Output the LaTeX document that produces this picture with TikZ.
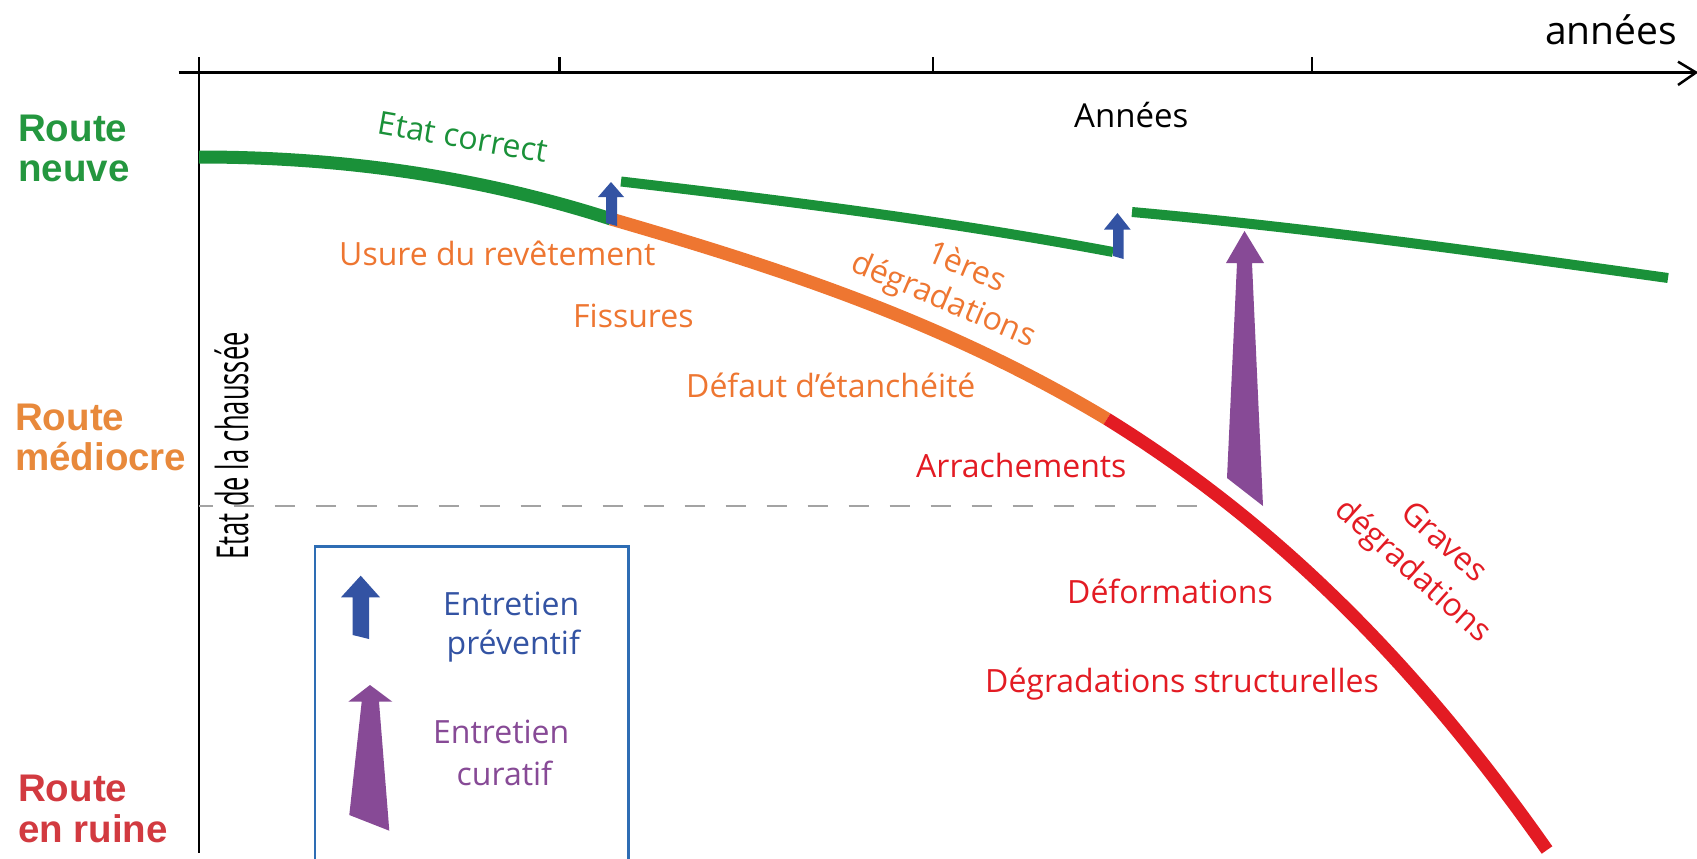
\documentclass[tikz,border=0pt]{standalone}
\usepackage{fontspec}
\usepackage{graphicx}
\setmainfont{Open Sans}
\newfontfamily\routefont{Liberation Sans}
\definecolor{cgreen}{HTML}{1A9139}
\definecolor{cgreenT}{HTML}{24973F}
\definecolor{corange}{HTML}{EE7631}
\definecolor{corangeT}{HTML}{E8893B}
\definecolor{cred}{HTML}{E31B23}
\definecolor{credT}{HTML}{D23A40}
\definecolor{cblue}{HTML}{3353A3}
\definecolor{cpurple}{HTML}{874A96}
\definecolor{cbox}{HTML}{2E6DB4}
\definecolor{cdash}{HTML}{A3A3A3}
\begin{document}
\begin{tikzpicture}[x=1pt,y=-1pt,
  lbl/.style={inner sep=0pt, font=\fontsize{32}{38}\selectfont},
  routelbl/.style={inner sep=0pt, anchor=base west, font=\routefont\bfseries\fontsize{38.5}{42}\selectfont},
  axisline/.style={line width=2.5pt, black},
  curve/.style={line width=13pt, line cap=butt},
  thincurve/.style={line width=10pt, line cap=butt}]
\useasboundingbox (0,0) rectangle (1697,859);
\fill[white] (0,0) rectangle (1697,859);

% axes
\coordinate (ax0) at (178.6,72.5);
\coordinate (axE) at (1696,72.5);
\coordinate (chevA) at (1678,61.7);
\coordinate (chevB) at (1678,85);
\coordinate (vy0) at (199,57.3);
\coordinate (vy1) at (199,853);
\draw[axisline] (ax0) -- (axE);
\draw[line width=2.5pt, line join=miter] (chevA) -- (axE) -- (chevB);
\draw[axisline] (vy0) -- (vy1);
\foreach \tx in {559.5,933,1312}{
  \draw[axisline] (\tx,57.3) -- (\tx,72.5);
}

% dashed threshold
\coordinate (d0) at (199,505.5);
\coordinate (d1) at (1197,505.5);
\draw[cdash, line width=2pt, dash pattern=on 20pt off 21pt, dash phase=6.5pt] (d0) -- (d1);

% curves
\coordinate (g1a) at (199,157);
\coordinate (g1b) at (611,219);
\coordinate (ob) at (1107,419);
\coordinate (re) at (1547,850);
\draw[curve, cgreen] (g1a) .. controls (337,157) and (474,175) .. (g1b);
\draw[curve, corange] (g1b) .. controls (776,267) and (942,320) .. (ob);
\draw[curve, cred] (ob) .. controls (1254,510) and (1400,640) .. (re);
\coordinate (g2a) at (621,181.5);
\coordinate (g2b) at (1113,252);
\draw[thincurve, cgreen] (g2a) .. controls (784,200.6) and (948,221) .. (g2b);
\coordinate (g3a) at (1132,212);
\coordinate (g3b) at (1668,278);
\draw[thincurve, cgreen] (g3a) .. controls (1310,228) and (1489,253) .. (g3b);

% maintenance arrows
\fill[cblue] (611,182) -- (624,197) -- (617,197) -- (617,226) -- (606,223) -- (606,197) -- (598,197) -- cycle;
\fill[cblue] (1117.5,213) -- (1130.5,229.5) -- (1123.5,229.5) -- (1123.5,259) -- (1113,256) -- (1113,229.5) -- (1104,229.5) -- cycle;
\fill[cpurple] (1244.5,231) -- (1264,263) -- (1252,263) -- (1263,506) -- (1227,478) -- (1237,263) -- (1226,263) -- cycle;

% legend
\coordinate (lb0) at (315,860);
\coordinate (lb1) at (315,546.7);
\coordinate (lb2) at (628.5,546.7);
\coordinate (lb3) at (628.5,860);
\draw[cbox, line width=2.5pt] (lb0) -- (lb1) -- (lb2) -- (lb3);
\fill[cblue] (360.7,575.7) -- (380,597.3) -- (369,597.3) -- (369,639) -- (352.7,635) -- (352.7,597.3) -- (341,597.3) -- cycle;
\fill[cpurple] (370,685) -- (392.3,701.7) -- (379,701.7) -- (389.3,830.7) -- (349.3,815) -- (361.7,701.7) -- (348.3,701.7) -- cycle;
\node[lbl, cblue, anchor=base west] (lp1) at (443,615) {Entretien};
\node[lbl, cblue, anchor=base west] (lp2) at (446.5,654) {préventif};
\node[lbl, cpurple, anchor=base west] (lc1) at (433,743) {Entretien};
\node[lbl, cpurple, anchor=base west] (lc2) at (456.5,785) {curatif};

% left state labels
\node[routelbl, cgreenT] (rn1) at (18,141) {Route};
\node[routelbl, cgreenT] (rn2) at (18,181) {neuve};
\node[routelbl, corangeT] (rm1) at (15,430) {Route};
\node[routelbl, corangeT] (rm2) at (15,470) {médiocre};
\node[routelbl, credT] (rr1) at (18,801) {Route};
\node[routelbl, credT] (rr2) at (18,842) {en ruine};

% axis titles
\node[inner sep=0pt, anchor=base west, font=\fontsize{39}{44}\selectfont] (yearsTop) at (1545,45) {années};
\node[inner sep=0pt, anchor=base west, font=\fontsize{33}{38}\selectfont] (years) at (1074,127) {Années};
\node[inner sep=0pt, anchor=base west, rotate=90, font=\fontsize{44}{48}\selectfont] (etat) at (248,560) {\scalebox{0.58}[1]{Etat de la chaussée}};

% curve labels
\node[lbl, cgreen, rotate=-10] (ok) at (463,137) {Etat correct};
\node[lbl, corange, anchor=base west] (usure) at (339,265) {Usure du revêtement};
\node[lbl, corange, anchor=base west] (fiss) at (573,327) {Fissures};
\node[lbl, corange, anchor=base west] (etan) at (686,397) {Défaut d'étanchéité};
\node[lbl, corange, rotate=-23] (d1a) at (967.5,265) {1ères};
\node[lbl, corange, rotate=-23] (d1b) at (943,301) {dégradations};
\node[lbl, cred, anchor=base west] (arr) at (916,477) {Arrachements};
\node[lbl, cred, anchor=base west] (defo) at (1067,603) {Déformations};
\node[lbl, cred, anchor=base west] (struc) at (985,692) {Dégradations structurelles};
\node[lbl, cred, rotate=-42] (gva) at (1445,541) {Graves};
\node[lbl, cred, rotate=-42] (gvb) at (1412,572) {dégradations};
\end{tikzpicture}
\end{document}
